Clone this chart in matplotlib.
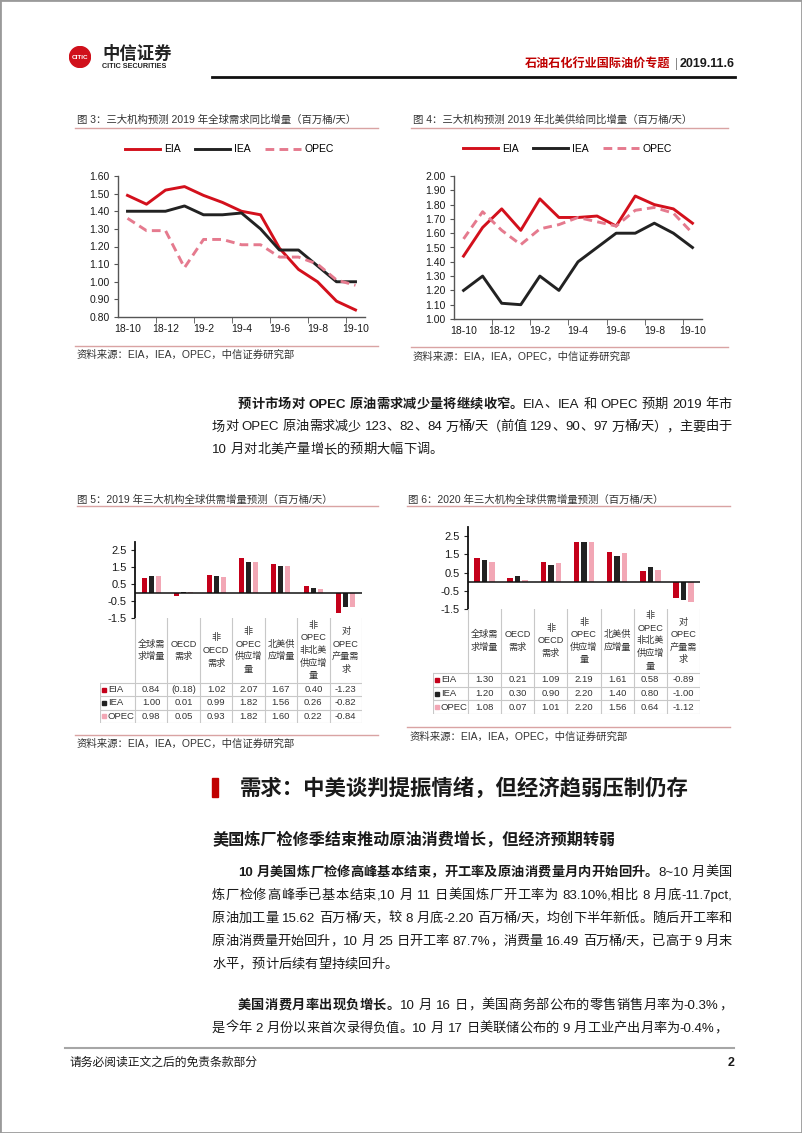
import re
import numpy as np
import matplotlib
matplotlib.use('Agg')
import matplotlib.pyplot as plt
from matplotlib.patches import Rectangle, Circle
from matplotlib.ticker import FormatStrFormatter

# ---- data ----
months = ['18-10', '18-11', '18-12', '19-1', '19-2', '19-3', '19-4',
          '19-5', '19-6', '19-7', '19-8', '19-9', '19-10']

# fig 3: global demand growth 2019 forecasts (mb/d)
dem_eia = [1.49, 1.44, 1.52, 1.54, 1.49, 1.45, 1.40, 1.38, 1.19, 1.07, 1.00, 0.89, 0.84]
dem_iea = [1.40, 1.40, 1.40, 1.43, 1.38, 1.38, 1.39, 1.30, 1.18, 1.18, 1.09, 1.00, 1.00]
dem_opec = [1.36, 1.29, 1.29, 1.08, 1.24, 1.24, 1.21, 1.21, 1.14, 1.14, 1.10, 1.01, 0.98]

# fig 4: north america supply growth 2019 forecasts (mb/d)
sup_eia = [1.44, 1.64, 1.77, 1.62, 1.84, 1.71, 1.71, 1.72, 1.65, 1.86, 1.80, 1.77, 1.67]
sup_iea = [1.20, 1.30, 1.11, 1.10, 1.30, 1.20, 1.40, 1.50, 1.60, 1.60, 1.67, 1.60, 1.50]
sup_opec = [1.56, 1.75, 1.62, 1.52, 1.63, 1.66, 1.71, 1.68, 1.65, 1.76, 1.78, 1.74, 1.60]

# fig 5 / fig 6 categories
cats = ['全球需\n求增量', 'OECD\n需求', '非\nOECD\n需求', '非\nOPEC\n供应增\n量',
        '北美供\n应增量', '非\nOPEC\n非北美\n供应增\n量', '对\nOPEC\n产量需\n求']
agencies = ['EIA', 'IEA', 'OPEC']

bal19_eia = [0.84, -0.18, 1.02, 2.07, 1.67, 0.40, -1.23]
bal19_iea = [1.00, 0.01, 0.99, 1.82, 1.56, 0.26, -0.82]
bal19_opec = [0.98, 0.05, 0.93, 1.82, 1.60, 0.22, -0.84]
tab19_eia = ['0.84', '(0.18)', '1.02', '2.07', '1.67', '0.40', '-1.23']
tab19_iea = ['1.00', '0.01', '0.99', '1.82', '1.56', '0.26', '-0.82']
tab19_opec = ['0.98', '0.05', '0.93', '1.82', '1.60', '0.22', '-0.84']

bal20_eia = [1.30, 0.21, 1.09, 2.19, 1.61, 0.58, -0.89]
bal20_iea = [1.20, 0.30, 0.90, 2.20, 1.40, 0.80, -1.00]
bal20_opec = [1.08, 0.07, 1.01, 2.20, 1.56, 0.64, -1.12]
tab20_eia = ['1.30', '0.21', '1.09', '2.19', '1.61', '0.58', '-0.89']
tab20_iea = ['1.20', '0.30', '0.90', '2.20', '1.40', '0.80', '-1.00']
tab20_opec = ['1.08', '0.07', '1.01', '2.20', '1.56', '0.64', '-1.12']

bal_ticks = [2.5, 1.5, 0.5, -0.5, -1.5]

# page text
header_title = '石油石化行业国际油价专题'
header_date = '2019.11.6'
fig3_title = '图 3：三大机构预测 2019 年全球需求同比增量（百万桶/天）'
fig4_title = '图 4：三大机构预测 2019 年北美供给同比增量（百万桶/天）'
fig5_title = '图 5：2019 年三大机构全球供需增量预测（百万桶/天）'
fig6_title = '图 6：2020 年三大机构全球供需增量预测（百万桶/天）'
source = '资料来源：EIA，IEA，OPEC，中信证券研究部'
para1 = [
    [('预计市场对 OPEC 原油需求减少量将继续收窄。', True), ('EIA、IEA 和 OPEC 预期 2019 年市', False)],
    [('场对 OPEC 原油需求减少 123、82、84 万桶/天（前值 129、90、97 万桶/天），主要由于', False)],
    [('10 月对北美产量增长的预期大幅下调。', False)],
]
heading = '需求：中美谈判提振情绪，但经济趋弱压制仍存'
subheading = '美国炼厂检修季结束推动原油消费增长，但经济预期转弱'
para2 = [
    [('10 月美国炼厂检修高峰基本结束，开工率及原油消费量月内开始回升。', True), ('8~10 月美国', False)],
    [('炼厂检修高峰季已基本结束,10 月 11 日美国炼厂开工率为 83.10%,相比 8 月底-11.7pct,', False)],
    [('原油加工量 15.62 百万桶/天，较 8 月底-2.20 百万桶/天，均创下半年新低。随后开工率和', False)],
    [('原油消费量开始回升，10 月 25 日开工率 87.7%，消费量 16.49 百万桶/天，已高于 9 月末', False)],
    [('水平，预计后续有望持续回升。', False)],
]
para3 = [
    [('美国消费月率出现负增长。', True), ('10 月 16 日，美国商务部公布的零售销售月率为-0.3%，', False)],
    [('是今年 2 月份以来首次录得负值。10 月 17 日美联储公布的 9 月工业产出月率为-0.4%，', False)],
]
footer = '请务必阅读正文之后的免责条款部分'

# ---- style ----
RED = '#D3101C'
BLACK = '#222222'
PINK = '#E57A8E'
BAR_RED = '#C4001A'
BAR_PINK = '#F2A7B5'
TXT = '#1A1A1A'
RULE = '#D9A3A3'
GRID = '#C8C8C8'

plt.rcParams['font.family'] = ['Liberation Sans', 'Noto Sans CJK SC', 'DejaVu Sans']

W, H = 802, 1133
fig = plt.figure(figsize=(W / 100, H / 100), dpi=100)
renderer = fig.canvas.get_renderer()


def fx(x):
    return x / W


def fy(y):
    return 1 - y / H


def add_ax(l, t, r, b):
    return fig.add_axes([fx(l), fy(b), (r - l) / W, (b - t) / H])


def hline(x0, x1, y, color, lw):
    fig.add_artist(plt.Line2D([fx(x0), fx(x1)], [fy(y), fy(y)], color=color, lw=lw,
                              transform=fig.transFigure))


def put_line(x, y, parts, size, right=None, color=TXT):
    # lay the line out token by token so it can be justified to the right margin;
    # a space only widens the gap in front of the next token
    px = size * 100 / 72
    base = y + 0.36 * px
    toks = []   # [artist, width, space before]
    pending = 0
    for s, bold in parts:
        for m in re.finditer(r'[\x21-\x7e]+| +|.', s):
            tok = m.group()
            if tok.isspace():
                pending += 0.28 * px * len(tok)
                continue
            t = fig.text(0, fy(base), tok, fontsize=size, color=color, ha='left',
                         va='baseline', fontweight='bold' if bold else 'normal')
            toks.append((t, t.get_window_extent(renderer).width, pending))
            pending = 0
    extra = 0
    if right is not None and len(toks) > 1:
        natural = sum(w + sp for _, w, sp in toks)
        extra = (right - x - natural) / (len(toks) - 1)
    for i, (t, w, sp) in enumerate(toks):
        x += sp + (extra if i > 0 else 0)
        t.set_x(fx(x))
        x += w


# page border
fig.add_artist(Rectangle((0, 0), 1, 1, transform=fig.transFigure, fill=False,
                         ec='#9A9A9A', lw=2))

# ---- header ----
lax = add_ax(69, 46, 91, 68)
lax.set_xlim(-1.05, 1.05)
lax.set_ylim(-1.05, 1.05)
lax.set_aspect('equal')
lax.axis('off')
lax.add_patch(Circle((0, 0), 1, color='#D0101B'))
lax.text(0, -0.05, 'CITIC', color='white', fontsize=4.6, fontweight='bold',
         ha='center', va='center')
fig.text(fx(102), fy(53), '中信证券', fontsize=12.5, fontweight='bold', color='#222222',
         ha='left', va='center')
fig.text(fx(102), fy(67), 'CITIC SECURITIES', fontsize=5.2, fontweight='bold',
         color='#222222', ha='left', va='center')
fig.text(fx(670), fy(64), header_title, fontsize=8.7, fontweight='bold', color='#C00000',
         ha='right', va='center')
fig.text(fx(676), fy(64), '|', fontsize=8.5, color='#888888', ha='center', va='center')
fig.text(fx(735), fy(64), header_date, fontsize=9, fontweight='bold', color=TXT,
         ha='right', va='center')
hline(212, 735, 77, '#111111', 2)


# ---- line charts ----
def line_chart(l, t, r, b, eia, iea, opec, ylim, step, leg_x):
    ax = add_ax(l, t, r, b)
    x = np.arange(len(months))
    ax.plot(x, eia, color=RED, lw=2.1, label='EIA')
    ax.plot(x, iea, color=BLACK, lw=2.1, label='IEA')
    ax.plot(x, opec, color=PINK, lw=2.1, ls=(0, (3, 1.8)), label='OPEC')
    ax.set_xlim(-0.5, len(months) - 0.5)
    ax.set_ylim(*ylim)
    ax.set_yticks(np.arange(ylim[0], ylim[1] + step / 2, step))
    ax.yaxis.set_major_formatter(FormatStrFormatter('%.2f'))
    ax.set_xticks(x[::2])
    ax.set_xticklabels(months[::2])
    ax.set_xticks(np.arange(1.5, len(months) - 1, 2), minor=True)
    ax.tick_params(axis='x', which='major', length=0, labelsize=7.5, pad=5, colors=TXT)
    ax.tick_params(axis='x', which='minor', length=4, color='#555555')
    ax.tick_params(axis='y', length=3, labelsize=7.5, pad=3, colors=TXT, color='#555555')
    for s in ['top', 'right']:
        ax.spines[s].set_visible(False)
    for s in ['left', 'bottom']:
        ax.spines[s].set_color('#555555')
        ax.spines[s].set_linewidth(1)
    ax.legend(ncol=3, loc='center', bbox_to_anchor=(leg_x, 1.19), frameon=False,
              fontsize=7.5, handlelength=3.4, handletextpad=0.35, columnspacing=1.4)
    return ax


fig.text(fx(77), fy(120), fig3_title, fontsize=7.5, color='#333333', ha='left', va='center')
hline(75, 378, 128, RULE, 1)
line_chart(118, 176, 365, 317, dem_eia, dem_iea, dem_opec, (0.8, 1.6), 0.1, 0.45)
hline(75, 378, 346, RULE, 1)
fig.text(fx(77), fy(355), source, fontsize=7.5, color='#333333', ha='left', va='center')

fig.text(fx(413), fy(120), fig4_title, fontsize=7.5, color='#333333', ha='left', va='center')
hline(411, 728, 128, RULE, 1)
line_chart(454, 176, 702, 319, sup_eia, sup_iea, sup_opec, (1.0, 2.0), 0.1, 0.456)
hline(411, 728, 347, RULE, 1)
fig.text(fx(413), fy(357), source, fontsize=7.5, color='#333333', ha='left', va='center')


# ---- bar charts with data tables ----
def bar_table(l, t, r, b, tl, tb, head_b, eia, iea, opec, rows, off, width):
    ax = add_ax(l, t, r, b)
    n = len(cats)
    x = np.arange(n)
    for vals, col, k in zip([eia, iea, opec], [BAR_RED, BLACK, BAR_PINK], [-1, 0, 1]):
        ax.bar(x + k * off, vals, width=width, color=col)
    ax.axhline(0, color='#111111', lw=1.1)
    ax.set_xlim(-0.5, n - 0.5)
    ax.set_ylim(-1.5, 3.0)
    ax.set_yticks(bal_ticks)
    ax.yaxis.set_major_formatter(FormatStrFormatter('%.1f'))
    ax.set_xticks([])
    ax.tick_params(axis='y', length=3, labelsize=8, pad=3, colors=TXT, color='#222222')
    for s in ['top', 'right', 'bottom']:
        ax.spines[s].set_visible(False)
    ax.spines['left'].set_color('#111111')
    ax.spines['left'].set_linewidth(1.3)

    unit = (r - l) / n
    left = -0.5 - (l - tl) / unit
    tax = add_ax(tl, b, r, tb)
    tax.set_xlim(left, n - 0.5)
    tax.set_ylim(tb, b)
    tax.axis('off')
    row_h = (tb - head_b) / 3
    for k in range(n + 1):
        tax.plot([k - 0.5, k - 0.5], [b, tb], color=GRID, lw=0.8)
    tax.plot([left, left], [head_b, tb], color=GRID, lw=0.8)
    for j in range(4):
        yy = head_b + j * row_h
        tax.plot([left, n - 0.5], [yy, yy], color=GRID, lw=0.8)
    for k, c in enumerate(cats):
        tax.text(k, (b + head_b) / 2, c, fontsize=6.6, color='#333333', ha='center',
                 va='center', linespacing=1.5)
    for j, (name, col, vals) in enumerate(zip(agencies, [BAR_RED, BLACK, BAR_PINK], rows)):
        yy = head_b + (j + 0.5) * row_h
        tax.plot([left + 0.12], [yy], marker='s', ms=3, color=col, ls='none')
        tax.text(left + 0.24, yy, name, fontsize=6.8, color='#333333', ha='left', va='center')
        for k, v in enumerate(vals):
            tax.text(k, yy, v, fontsize=6.8, color='#333333', ha='center', va='center')
    return ax


fig.text(fx(77), fy(500), fig5_title, fontsize=7.5, color='#333333', ha='left', va='center')
hline(77, 378, 506, RULE, 1)
bar_table(135, 542, 362, 618, 100, 723, 683, bal19_eia, bal19_iea, bal19_opec,
          [tab19_eia, tab19_iea, tab19_opec], 0.216, 0.155)
hline(75, 378, 735, RULE, 1)
fig.text(fx(77), fy(744), source, fontsize=7.5, color='#333333', ha='left', va='center')

fig.text(fx(408), fy(500), fig6_title, fontsize=7.5, color='#333333', ha='left', va='center')
hline(407, 730, 506, RULE, 1)
bar_table(468, 527, 700, 609, 433, 714, 673, bal20_eia, bal20_iea, bal20_opec,
          [tab20_eia, tab20_iea, tab20_opec], 0.227, 0.166)
hline(407, 730, 727, RULE, 1)
fig.text(fx(410), fy(737), source, fontsize=7.5, color='#333333', ha='left', va='center')

# ---- body text ----
BODY = 9.5
RIGHT = 732


def paragraph(lines, y0, step):
    for i, parts in enumerate(lines):
        last = i == len(lines) - 1
        put_line(238 if i == 0 else 212, y0 + i * step, parts, BODY,
                 right=None if last else RIGHT)


paragraph(para1, 403, 22.7)

fig.add_artist(Rectangle((fx(212), fy(797)), 6 / W, 19 / H, transform=fig.transFigure,
                         color='#C00000'))
fig.text(fx(240), fy(788), heading, fontsize=15.4, fontweight='bold', color=TXT,
         ha='left', va='center')
fig.text(fx(212), fy(840), subheading, fontsize=11.6, fontweight='bold', color=TXT,
         ha='left', va='center')

paragraph(para2, 871, 23)
paragraph(para3, 1004, 23)

# ---- footer ----
hline(65, 734, 1048, '#A6A6A6', 1.5)
fig.text(fx(69), fy(1063), footer, fontsize=8.5, color=TXT, ha='left', va='center')
fig.text(fx(734), fy(1063), '2', fontsize=9, fontweight='bold', color=TXT,
         ha='right', va='center')

fig.savefig('out.png', dpi=100)
